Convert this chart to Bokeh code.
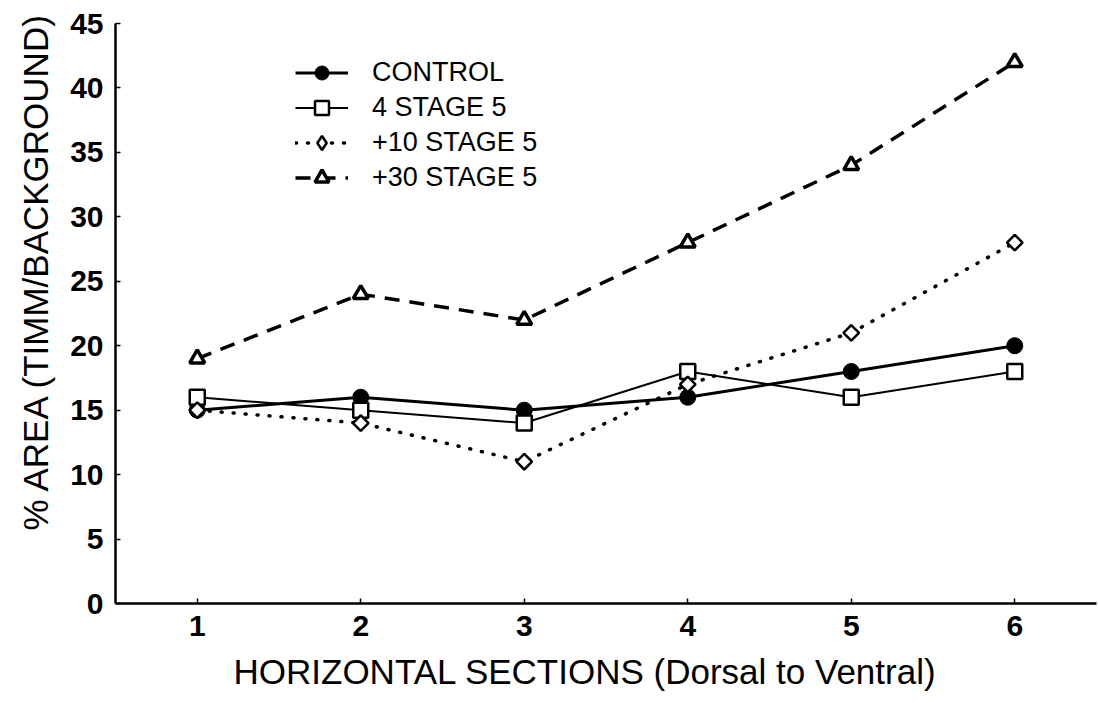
import math
from bokeh.plotting import figure
from bokeh.models import Range1d, FixedTicker, Legend, Title
from bokeh.embed import file_html
from bokeh.resources import INLINE

sections = [1, 2, 3, 4, 5, 6]
control = [15, 16, 15, 16, 18, 20]
stage4 = [16, 15, 14, 18, 16, 18]
stage10 = [15, 14, 11, 17, 21, 28]
stage30 = [19, 24, 22, 28, 34, 42]
y_ticks = [0, 5, 10, 15, 20, 25, 30, 35, 40, 45]
labels = ["CONTROL", "4 STAGE 5", "+10 STAGE 5", "+30 STAGE 5"]
x_title = "HORIZONTAL SECTIONS (Dorsal to Ventral)"
y_title = "% AREA (TIMM/BACKGROUND)"

FONT = "Liberation Sans"

p = figure(width=1098, height=703, output_backend="svg", toolbar_location=None,
           x_range=Range1d(0.5, 6.5), y_range=Range1d(0, 45),
           min_border_left=115, min_border_right=2, min_border_top=23, min_border_bottom=100)
p.outline_line_color = None
p.grid.visible = False
p.background_fill_color = "white"
p.border_fill_color = "white"

for ax in (p.xaxis[0], p.yaxis[0]):
    ax.axis_line_width = 2.5
    ax.axis_line_color = "black"
    ax.major_tick_in = 5
    ax.major_tick_out = 0
    ax.major_tick_line_width = 1.5
    ax.minor_tick_line_color = None
    ax.major_label_text_font = FONT
    ax.major_label_text_font_size = "30px"
    ax.major_label_text_font_style = "bold"
    ax.major_label_text_color = "black"

p.xaxis.ticker = FixedTicker(ticks=sections)
p.yaxis.ticker = FixedTicker(ticks=y_ticks)
p.xaxis.major_label_standoff = 12
p.yaxis.major_label_standoff = 12

xt = Title(text=x_title, align="left", offset=118, text_font=FONT, text_font_size="35px",
           text_font_style="normal", text_color="black", standoff=22)
p.add_layout(xt, "below")
yt = Title(text=y_title, align="left", offset=73, text_font=FONT, text_font_size="35px",
           text_font_style="normal", text_color="black", standoff=25)
p.add_layout(yt, "left")

# lines
r_l1 = p.line(sections, control, line_color="black", line_width=3)
r_l2 = p.line(sections, stage4, line_color="black", line_width=2)
r_l3 = p.line(sections, stage10, line_color="black", line_width=3.5, line_dash="1 11", line_cap="round")
r_l4 = p.line(sections, stage30, line_color="black", line_width=3.5, line_dash="15 10")

# markers
r_m1 = p.scatter(sections, control, marker="circle", size=16, fill_color="black", line_color="black")
r_m2 = p.scatter(sections, stage4, marker="square", size=15, fill_color="white", line_color="black", line_width=2.5)
r_m3_leg = p.scatter(sections, stage10, marker="diamond", size=15, fill_color="white", line_color="black", line_width=2.5)
r_m3 = p.scatter(sections, stage10, marker="square", size=11, angle=math.pi / 4,
                 fill_color="white", line_color="black", line_width=2.5)
r_m4 = p.scatter(sections, stage30, marker="triangle", size=15, fill_color="white", line_color="black", line_width=3.5)

legend = Legend(items=[
    (labels[0], [r_l1, r_m1]),
    (labels[1], [r_l2, r_m2]),
    (labels[2], [r_l3, r_m3_leg]),
    (labels[3], [r_l4, r_m4]),
], location=(180, 408))
legend.border_line_color = None
legend.background_fill_alpha = 0
legend.padding = 0
legend.margin = 0
legend.spacing = 0
legend.glyph_width = 53
legend.glyph_height = 35
legend.label_height = 35
legend.label_standoff = 24
legend.label_text_font = FONT
legend.label_text_font_size = "27px"
legend.label_text_color = "black"
legend.label_text_baseline = "middle"
p.add_layout(legend, "center")

open("out.html", "w").write(file_html(p, INLINE))
